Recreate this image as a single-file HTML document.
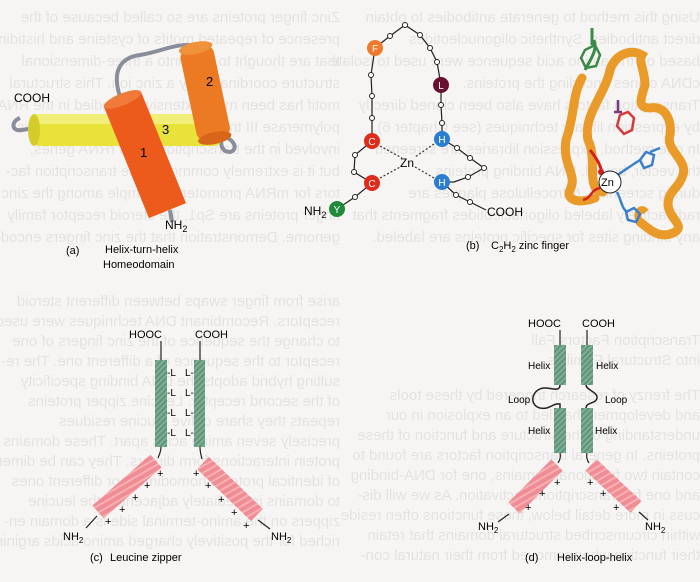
<!DOCTYPE html>
<html><head><meta charset="utf-8"><style>
html,body{margin:0;padding:0;background:#f7f5f3;overflow:hidden;}
svg{display:block;}
text{font-family:"Liberation Sans",sans-serif;}
</style></head><body>
<svg width="700" height="582" viewBox="0 0 700 582" xmlns="http://www.w3.org/2000/svg">
<defs>
<pattern id="gs" width="4" height="4" patternUnits="userSpaceOnUse" patternTransform="rotate(45)">
<rect width="4" height="4" fill="#7fae96"/><rect width="2" height="4" fill="#5f9478"/></pattern>
<pattern id="pk" width="6" height="6" patternUnits="userSpaceOnUse" patternTransform="rotate(60)">
<rect width="6" height="6" fill="#f08d94"/><rect width="2" height="6" fill="#f5b0b4"/></pattern>
</defs>
<rect width="700" height="582" fill="#f7f5f3"/>
<!-- faint show-through text -->
<g fill="#000" opacity="0.07" font-family="Liberation Serif,serif" font-size="15" transform="translate(700,0) scale(-1,1)">
<text x="360" y="22">Zinc finger proteins are so called because of the</text>
<text x="360" y="44">presence of repeated motifs of cysteine and histidine</text>
<text x="360" y="66">that are thought to loop into a three-dimensional</text>
<text x="360" y="88">structure coordinated by a zinc ion. This structural</text>
<text x="360" y="110">motif has been most extensively studied in the RNA</text>
<text x="360" y="132">polymerase III transcription factor TFIIIA which is</text>
<text x="360" y="154">involved in the transcription of 5S rRNA genes,</text>
<text x="360" y="176">but it is extremely common in the transcription fac-</text>
<text x="360" y="198">tors for mRNA promoters. Example among the zinc</text>
<text x="360" y="220">finger proteins are Sp1, the steroid receptor family</text>
<text x="360" y="242">genome. Demonstration that the zinc fingers encode</text>
<text x="360" y="306">arise from finger swaps between different steroid</text>
<text x="360" y="326">receptors. Recombinant DNA techniques were used</text>
<text x="360" y="346">to change the sequence of the zinc fingers of one</text>
<text x="360" y="366">receptor to the sequence of a different one. The re-</text>
<text x="360" y="386">sulting hybrid adopts the DNA binding specificity</text>
<text x="360" y="406">of the second receptor. Leucine zipper proteins</text>
<text x="360" y="426">repeats they share of five leucine residues</text>
<text x="360" y="446">precisely seven amino acids apart. These domains</text>
<text x="360" y="466">protein interactions form dimers. They can be dimers</text>
<text x="360" y="486">of identical proteins homodimers or different ones</text>
<text x="360" y="506">to domains immediately adjacent to the leucine</text>
<text x="360" y="526">zippers on the amino-terminal side is a domain en-</text>
<text x="360" y="546">riched for the positively charged amino acids arginine</text>
<text x="0" y="22">Using this method to generate antibodies to obtain</text>
<text x="0" y="44">direct antibodies. Synthetic oligonucleotides</text>
<text x="0" y="66">based on the amino acid sequence were used to isolate</text>
<text x="0" y="88">cDNA clones encoding the proteins.</text>
<text x="0" y="110">Transcription factors have also been cloned directly</text>
<text x="0" y="132">by expression library techniques (see Chapter 6).</text>
<text x="0" y="154">In one method, expression libraries are screened</text>
<text x="0" y="176">the vector, bound. DNA binding proteins</text>
<text x="0" y="198">during screening. Nitrocellulose plaques are</text>
<text x="0" y="220">radioactively labeled oligonucleotides fragments that</text>
<text x="0" y="242">any binding sites for specific proteins are labeled.</text>
<text x="0" y="345">Transcription Factors Fall</text>
<text x="0" y="365">into Structural Families</text>
<text x="0" y="400">The frenzy of research triggered by these tools</text>
<text x="0" y="420">and development has led to an explosion in our</text>
<text x="0" y="440">understanding of the structure and function of these</text>
<text x="0" y="460">proteins. In general transcription factors are found to</text>
<text x="0" y="480">contain two functional domains, one for DNA-binding</text>
<text x="0" y="500">and one for transcriptional activation. As we will dis-</text>
<text x="0" y="520">cuss in more detail below, these functions often reside</text>
<text x="0" y="540">within circumscribed structural domains that retain</text>
<text x="0" y="560">their function when removed from their natural con-</text>
</g>

<!-- (a) Helix-turn-helix -->
<path d="M20,118 C10,122 12,132 22,130 L34,128" stroke="#8a8e9a" stroke-width="4" fill="none"/>
<path d="M160,155 C115,110 100,60 140,55 C170,50 175,40 210,48" stroke="#8a8e9a" stroke-width="4" fill="none"/>
<path d="M222,136 C236,140 238,150 230,152 C222,152 220,145 222,138" stroke="#8a8e9a" stroke-width="4" fill="none"/>
<path d="M170,210 L172,222" stroke="#8a8e9a" stroke-width="4"/>
<rect x="32" y="114" width="190" height="32" rx="8" fill="#e8e23a"/>
<rect x="32" y="114" width="190" height="10" rx="5" fill="#f2ee7a"/>
<ellipse cx="34" cy="130" rx="6" ry="16" fill="#d4cc2a"/>
<g transform="translate(205,92) rotate(-12)">
<rect x="-17" y="-45" width="34" height="92" rx="8" fill="#ec7a22"/>
<ellipse cx="0" cy="-45" rx="17" ry="6" fill="#f0923a"/>
<ellipse cx="0" cy="47" rx="17" ry="6" fill="#d8661a"/>
</g>
<g transform="translate(145,155) rotate(-22)">
<rect x="-20" y="-60" width="40" height="120" fill="#ec5a1c"/>
<ellipse cx="0" cy="-60" rx="20" ry="6" fill="#f07a3a"/>
</g>
<text x="206" y="86" font-size="13">2</text>
<text x="162" y="134" font-size="13">3</text>
<text x="140" y="157" font-size="13">1</text>
<text x="14" y="102" font-size="12">COOH</text>
<text x="165" y="229" font-size="12">NH<tspan font-size="9" dy="3">2</tspan></text>
<text x="66" y="254" font-size="11">(a)</text>
<text x="105" y="253" font-size="11">Helix-turn-helix</text>
<text x="103" y="268" font-size="11">Homeodomain</text>

<!-- (b) zinc finger schematic -->
<g stroke="#222" stroke-width="1.2" fill="none">
<polyline points="372,141 372,118 372,96 371,75 375,48 390,36 405,25 420,35 430,48 437,62 441,85 441,105 442,123 442,139"/>
<polyline points="442,139 457,148 470,158 484,168 468,177 454,182 442,182"/>
<polyline points="442,182 456,195 470,202 486,210"/>
<polyline points="372,141 355,155 354,172 372,183 355,197 337,209"/>
</g>
<g fill="#fff" stroke="#222" stroke-width="1">
<circle cx="372" cy="118" r="2.5"/><circle cx="372" cy="96" r="2.5"/><circle cx="371" cy="75" r="2.5"/>
<circle cx="390" cy="36" r="2.5"/><circle cx="405" cy="25" r="2.5"/><circle cx="420" cy="35" r="2.5"/>
<circle cx="430" cy="48" r="2.5"/><circle cx="437" cy="62" r="2.5"/><circle cx="441" cy="105" r="2.5"/>
<circle cx="442" cy="123" r="2.5"/><circle cx="457" cy="148" r="2.5"/><circle cx="470" cy="158" r="2.5"/>
<circle cx="484" cy="168" r="2.5"/><circle cx="468" cy="177" r="2.5"/><circle cx="456" cy="195" r="2.5"/>
<circle cx="470" cy="202" r="2.5"/><circle cx="355" cy="155" r="2.5"/><circle cx="354" cy="172" r="2.5"/>
<circle cx="355" cy="197" r="2.5"/>
</g>
<g stroke="#333" stroke-width="1.2" stroke-dasharray="2,2">
<line x1="380" y1="146" x2="402" y2="158"/><line x1="380" y1="178" x2="402" y2="166"/>
<line x1="434" y1="144" x2="415" y2="157"/><line x1="434" y1="178" x2="415" y2="167"/>
</g>
<text x="400" y="167" font-size="12">Zn</text>
<g font-size="10" fill="#fff" text-anchor="middle">
<circle cx="375" cy="48" r="8" fill="#f07a2a"/><text x="375" y="52">F</text>
<circle cx="441" cy="85" r="8" fill="#6a1030"/><text x="441" y="89">L</text>
<circle cx="372" cy="141" r="8" fill="#e02a1a"/><text x="372" y="145">C</text>
<circle cx="442" cy="139" r="8" fill="#2a7ed0"/><text x="442" y="143">H</text>
<circle cx="372" cy="183" r="8" fill="#e02a1a"/><text x="372" y="187">C</text>
<circle cx="442" cy="182" r="8" fill="#2a7ed0"/><text x="442" y="186">H</text>
<circle cx="337" cy="209" r="8" fill="#1e8a3a"/><text x="337" y="213">Y</text>
</g>
<text x="304" y="215" font-size="12">NH<tspan font-size="9" dy="3">2</tspan></text>
<text x="487" y="216" font-size="12">COOH</text>
<text x="466" y="249" font-size="11">(b)</text>
<text x="491" y="249" font-size="11">C<tspan font-size="8" dy="3">2</tspan><tspan dy="-3">H</tspan><tspan font-size="8" dy="3">2</tspan><tspan dy="-3"> zinc finger</tspan></text>

<!-- 3D ribbon -->
<path d="M592,28 L592,45 M585,70 C590,60 598,50 594,40" stroke="#3a8a4a" stroke-width="3" fill="none"/>
<polygon points="585,50 595,45 600,55 596,66 586,68 581,58" fill="none" stroke="#3a8a4a" stroke-width="2.5"/>
<path d="M582,78 C572,95 575,115 566,140 C562,165 578,175 570,190 C566,198 575,205 595,198" stroke="#e99a28" stroke-width="9" fill="none" stroke-linecap="round"/>
<path d="M603,192 C585,190 598,160 588,140 C583,115 605,95 610,70 C615,55 630,48 642,55 C638,62 645,70 645,85 C640,100 638,108 650,108 C665,105 672,120 670,135 C665,150 688,160 683,175 C678,190 668,190 668,205 C670,220 685,225 675,232 C660,240 650,230 640,222" stroke="#e99a28" stroke-width="9" fill="none" stroke-linecap="round"/>
<path d="M640,222 C635,215 640,205 646,212" stroke="#e99a28" stroke-width="7" fill="none"/>
<path d="M590,150 C598,160 600,165 602,172" stroke="#d42020" stroke-width="3" fill="none"/>
<circle cx="601" cy="172" r="3" fill="#d42020"/>
<path d="M583,200 C592,198 590,190 600,188" stroke="#d42020" stroke-width="2.5" fill="none"/>
<path d="M618,100 L618,112 M614,112 L622,112" stroke="#7a3a7a" stroke-width="2.5"/>
<polygon points="620,115 628,112 634,118 632,130 624,134 617,126" fill="none" stroke="#d43a3a" stroke-width="2.5"/>
<path d="M616,176 C625,170 632,165 640,160 M650,152 L660,148" stroke="#3a80c8" stroke-width="2.5"/>
<polygon points="640,160 646,152 654,155 652,165 644,168" fill="none" stroke="#3a80c8" stroke-width="2.5"/>
<path d="M617,192 C622,202 622,210 628,212" stroke="#3a80c8" stroke-width="2.5" fill="none"/>
<polygon points="626,212 634,208 640,214 636,222 628,220" fill="none" stroke="#3a80c8" stroke-width="2.5"/>
<circle cx="610" cy="182" r="11" fill="#fff" stroke="#222" stroke-width="1"/>
<text x="601" y="186" font-size="11">Zn</text>

<!-- (c) Leucine zipper -->
<text x="129" y="338" font-size="11">HOOC</text>
<text x="195" y="338" font-size="11">COOH</text>
<line x1="161" y1="341" x2="161" y2="360" stroke="#222" stroke-width="1.2"/>
<line x1="200" y1="341" x2="200" y2="360" stroke="#222" stroke-width="1.2"/>
<rect x="155" y="360" width="12" height="87" fill="url(#gs)"/>
<rect x="194" y="360" width="11" height="87" fill="url(#gs)"/>
<g font-size="10">
<text x="167" y="376">-L</text><text x="185" y="376">L-</text>
<text x="167" y="396">-L</text><text x="185" y="396">L-</text>
<text x="167" y="416">-L</text><text x="185" y="416">L-</text>
<text x="167" y="436">-L</text><text x="185" y="436">L-</text>
</g>
<path d="M161,447 C161,452 159,455 158,458" stroke="#222" stroke-width="1.2" fill="none"/>
<path d="M200,447 C200,452 201,455 202,459" stroke="#222" stroke-width="1.2" fill="none"/>
<line x1="156" y1="461" x2="98" y2="512" stroke="url(#pk)" stroke-width="17"/>
<line x1="203" y1="463" x2="257" y2="515" stroke="url(#pk)" stroke-width="17"/>
<line x1="97" y1="516" x2="86" y2="528" stroke="#222" stroke-width="1.2"/>
<line x1="258" y1="520" x2="270" y2="529" stroke="#222" stroke-width="1.2"/>
<g font-size="11"><text x="157" y="477">+</text><text x="144" y="489">+</text><text x="132" y="501">+</text><text x="119" y="513">+</text><text x="105" y="525">+</text>
<text x="193" y="477">+</text><text x="205" y="489">+</text><text x="218" y="503">+</text><text x="231" y="516">+</text><text x="243" y="529">+</text></g>
<text x="63" y="540" font-size="11">NH<tspan font-size="8" dy="3">2</tspan></text>
<text x="271" y="540" font-size="11">NH<tspan font-size="8" dy="3">2</tspan></text>
<text x="90" y="561" font-size="11">(c)</text>
<text x="110" y="561" font-size="11">Leucine zipper</text>

<!-- (d) Helix-loop-helix -->
<text x="528" y="327" font-size="11">HOOC</text>
<text x="582" y="327" font-size="11">COOH</text>
<line x1="560" y1="330" x2="560" y2="345" stroke="#222" stroke-width="1.2"/>
<line x1="587" y1="330" x2="587" y2="345" stroke="#222" stroke-width="1.2"/>
<rect x="554" y="345" width="12" height="40" fill="url(#gs)"/>
<rect x="581" y="345" width="12" height="40" fill="url(#gs)"/>
<rect x="554" y="408" width="12" height="45" fill="url(#gs)"/>
<rect x="581" y="408" width="12" height="45" fill="url(#gs)"/>
<path d="M560,385 C560,392 552,388 545,388 C532,388 528,405 540,408 C550,410 552,403 560,404 L560,408" stroke="#222" stroke-width="1.5" fill="none"/>
<path d="M586,385 C586,390 598,392 597,398 C596,404 586,402 586,408" stroke="#222" stroke-width="1.5" fill="none"/>
<g font-size="10"><text x="528" y="369">Helix</text><text x="596" y="369">Helix</text>
<text x="508" y="403">Loop</text><text x="605" y="403">Loop</text>
<text x="528" y="434">Helix</text><text x="595" y="434">Helix</text></g>
<path d="M560,453 C561,457 560,460 558,463" stroke="#222" stroke-width="1.2" fill="none"/>
<path d="M587,453 C586,457 587,460 589,463" stroke="#222" stroke-width="1.2" fill="none"/>
<line x1="557" y1="465" x2="514" y2="508" stroke="url(#pk)" stroke-width="16"/>
<line x1="591" y1="465" x2="636" y2="507" stroke="url(#pk)" stroke-width="16"/>
<line x1="509" y1="514" x2="498" y2="522" stroke="#222" stroke-width="1.2"/>
<line x1="639" y1="512" x2="648" y2="520" stroke="#222" stroke-width="1.2"/>
<g font-size="11"><text x="554" y="486">+</text><text x="539" y="497">+</text><text x="525" y="511">+</text>
<text x="587" y="486">+</text><text x="600" y="497">+</text><text x="613" y="511">+</text></g>
<text x="478" y="530" font-size="11">NH<tspan font-size="8" dy="3">2</tspan></text>
<text x="645" y="530" font-size="11">NH<tspan font-size="8" dy="3">2</tspan></text>
<text x="525" y="561" font-size="11">(d)</text>
<text x="557" y="561" font-size="11">Helix-loop-helix</text>
</svg>
</body></html>
